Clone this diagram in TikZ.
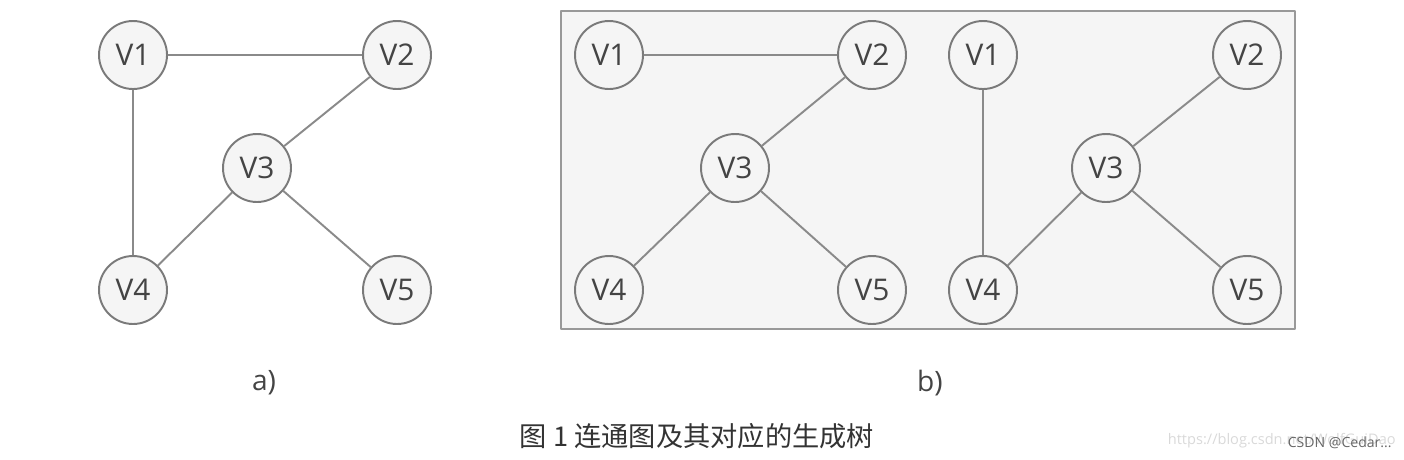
\documentclass[tikz,border=0pt]{standalone}
\usepackage{fontspec}
\setmainfont{Open Sans}
\newfontfamily\cjk{Noto Sans CJK SC}
\definecolor{edgegray}{HTML}{8A8A8A}
\definecolor{ringgray}{HTML}{7A7A7A}
\definecolor{paper}{HTML}{F5F5F5}
\definecolor{ink}{HTML}{444444}
\begin{document}
\begin{tikzpicture}[x=0.02cm,y=-0.02cm,line join=round,
	vtx/.style={circle,draw=ringgray,fill=paper,line width=1.1pt,minimum size=1.36cm,inner sep=0pt,text=ink,font=\fontsize{17}{17}\selectfont},
	edge/.style={draw=edgegray,line width=1.1pt}]
	\useasboundingbox (0,0) rectangle (1404,460);
	% a) connected graph
	\node[vtx] (a1) at (133,55) {V1};
	\node[vtx] (a2) at (397,55) {V2};
	\node[vtx] (a3) at (257,168) {V3};
	\node[vtx] (a4) at (133,290) {V4};
	\node[vtx] (a5) at (397,290) {V5};
	\draw[edge] (a1)--(a2) (a1)--(a4) (a2)--(a3) (a3)--(a4) (a3)--(a5);
	\node[text=ink,font=\fontsize{16}{16}\selectfont] (la) at (264,383) {a)};
	% b) spanning trees
	\draw[draw=black!40,fill=paper,line width=1.1pt] (561,11) rectangle (1295,329);
	\node[vtx] (b1) at (609,55) {V1};
	\node[vtx] (b2) at (872,55) {V2};
	\node[vtx] (b3) at (735,168) {V3};
	\node[vtx] (b4) at (609,290) {V4};
	\node[vtx] (b5) at (872,290) {V5};
	\draw[edge] (b1)--(b2) (b2)--(b3) (b3)--(b4) (b3)--(b5);
	\node[vtx] (c1) at (983,55) {V1};
	\node[vtx] (c2) at (1247,55) {V2};
	\node[vtx] (c3) at (1106,168) {V3};
	\node[vtx] (c4) at (983,290) {V4};
	\node[vtx] (c5) at (1247,290) {V5};
	\draw[edge] (c1)--(c4) (c2)--(c3) (c3)--(c4) (c3)--(c5);
	\node[text=ink,font=\fontsize{16}{16}\selectfont] (lb) at (930,383) {b)};
	% caption
	\node[text=black!80,font=\cjk\fontsize{15.5}{15.5}\selectfont] (cap) at (697,436) {图\ 1\ 连通图及其对应的生成树};
	\node[anchor=east,inner sep=0pt,text=black!15,font=\fontsize{8.3}{8.3}\selectfont] (url) at (1396,441) {https://blog.csdn.net/WolfGuiDao};
	\node[anchor=east,inner sep=0pt,text=black!60,font=\fontsize{8}{8}\selectfont] (mark) at (1392,443) {CSDN @Cedar...};
\end{tikzpicture}
\end{document}
